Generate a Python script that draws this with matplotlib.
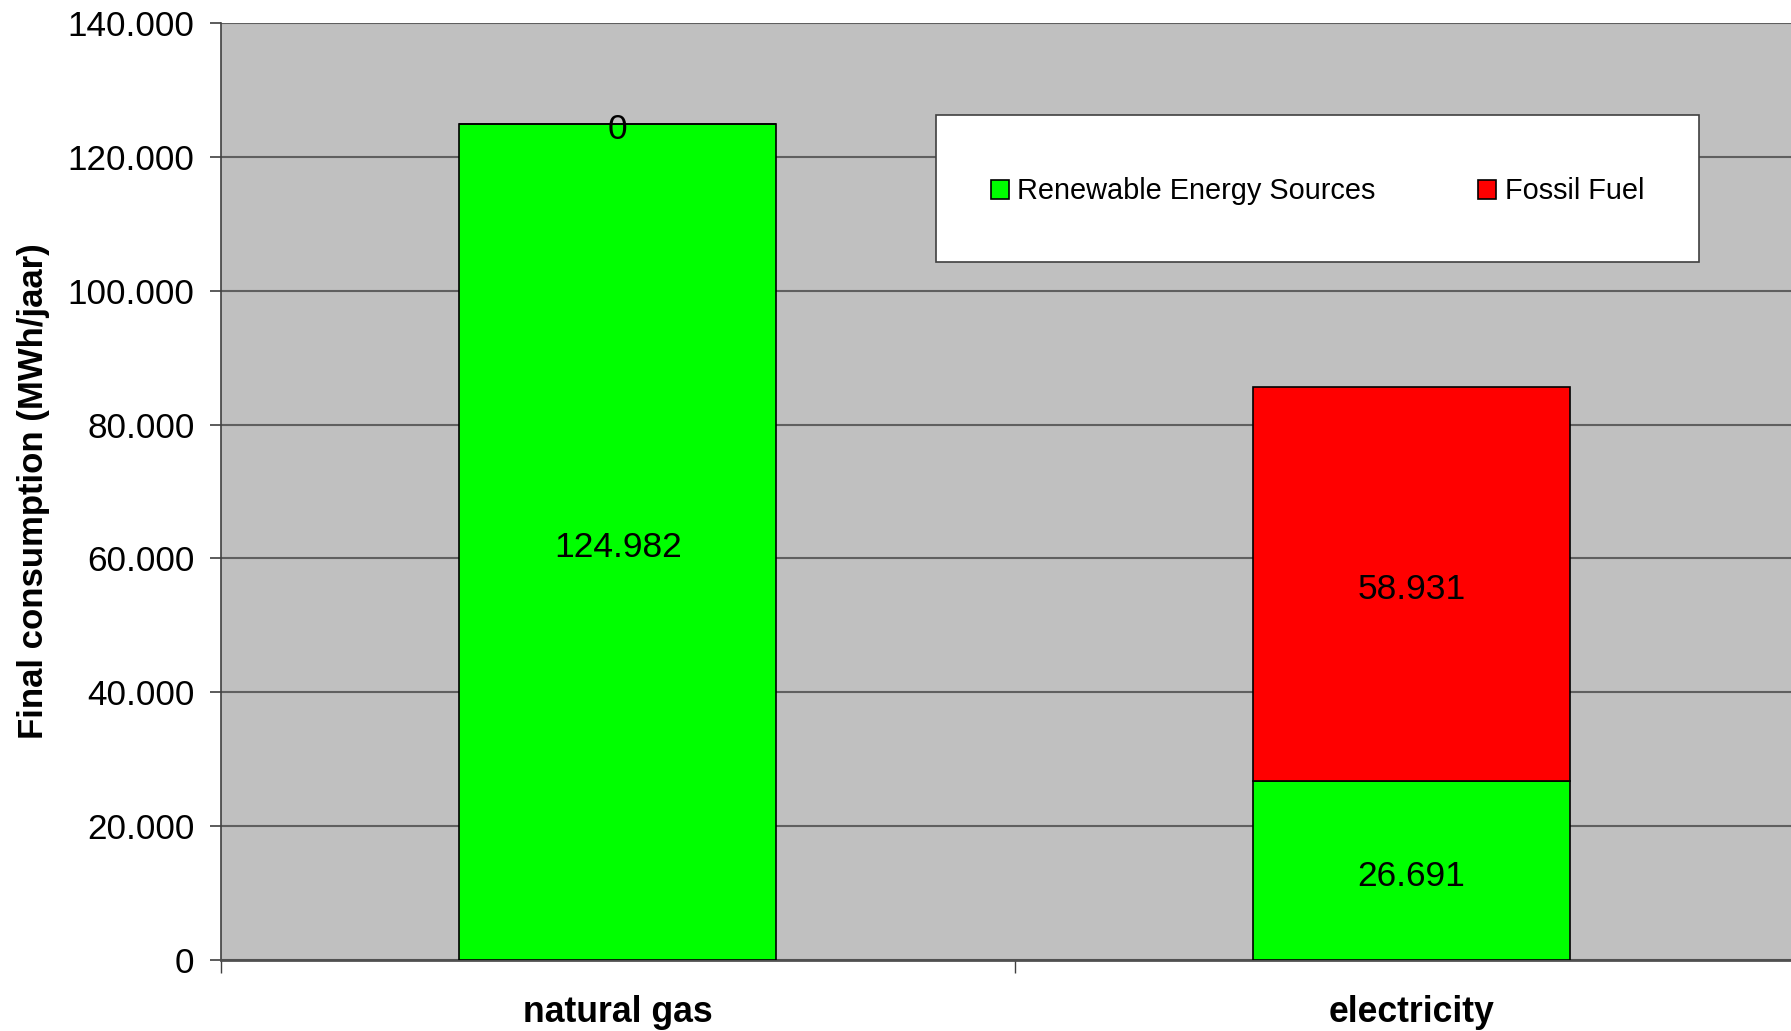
import matplotlib
matplotlib.use("Agg")
import matplotlib.pyplot as plt
from matplotlib.ticker import FuncFormatter, FixedLocator

plt.rcParams["font.family"] = ["Liberation Sans", "DejaVu Sans"]

categories = ["natural gas", "electricity"]
renewable = [124982, 26691]
fossil = [0, 58931]
series_names = ["Renewable Energy Sources", "Fossil Fuel"]
y_ticks = [0, 20000, 40000, 60000, 80000, 100000, 120000, 140000]


def dotted(v):
    return f"{int(round(v)):,}".replace(",", ".")


fig = plt.figure(figsize=(17.91, 10.31), dpi=100)
ax = fig.add_axes([221 / 1791, 71 / 1031, 1587 / 1791, 937 / 1031])
ax.set_facecolor("#c0c0c0")

x = list(range(len(categories)))
bars_r = ax.bar(x, renewable, width=0.40, color="#00ff00", edgecolor="black",
                linewidth=1.2, label=series_names[0], zorder=3)
bars_f = ax.bar(x, fossil, width=0.40, bottom=renewable, color="#ff0000",
                edgecolor="black", linewidth=1.2, label=series_names[1], zorder=3)

# value labels in the middle of each segment (excel puts them a touch low)
for i in x:
    ax.annotate(dotted(renewable[i]), (i, renewable[i] / 2), xytext=(0, -4),
                textcoords="offset points", ha="center", va="center",
                fontsize=25.5, zorder=4)
    ax.annotate(dotted(fossil[i]), (i, renewable[i] + fossil[i] / 2), xytext=(0, -4),
                textcoords="offset points", ha="center", va="center",
                fontsize=25.5, zorder=4)

ax.set_xlim(-0.5, 1.5)
ax.set_ylim(0, 140000)
ax.set_yticks(y_ticks)
ax.yaxis.set_major_formatter(FuncFormatter(lambda v, p: dotted(v)))
ax.yaxis.grid(True, color="#5f5f5f", linewidth=1.5, zorder=1)
ax.set_axisbelow(True)

ax.set_xticks(x)
ax.set_xticklabels(categories, fontsize=25.7, fontweight="bold")
ax.xaxis.set_minor_locator(FixedLocator([-0.5, 0.5, 1.5]))
ax.tick_params(axis="x", which="major", length=0, pad=25)
ax.tick_params(axis="x", which="minor", length=9, width=1, color="#404040")
ax.tick_params(axis="y", length=8, width=1.2, pad=11, labelsize=25.3, color="#404040")

ax.set_ylabel("Final consumption (MWh/jaar)", fontsize=25, fontweight="bold")
ax.yaxis.set_label_coords(-0.108, 0.5)

for side in ["top", "right"]:
    ax.spines[side].set_visible(False)
ax.spines["left"].set_color("#404040")
ax.spines["left"].set_linewidth(1.2)
ax.spines["bottom"].set_color("#505050")
ax.spines["bottom"].set_linewidth(2)

# legend box drawn separately so its size can match the original exactly
box = plt.Rectangle((936 / 1791, 1 - 262 / 1031), 763 / 1791, 147 / 1031,
                    transform=fig.transFigure, facecolor="white",
                    edgecolor="#404040", linewidth=1.2, zorder=5)
fig.patches.append(box)

leg = fig.legend(handles=[bars_r, bars_f], labels=series_names, ncol=2,
                 loc="center", mode="expand",
                 bbox_to_anchor=(936 / 1791, 1 - 265 / 1031, 763 / 1791, 147 / 1031),
                 fontsize=20.8, frameon=False, borderpad=1.9,
                 handlelength=0.62, handleheight=0.62, handletextpad=0.3,
                 borderaxespad=0)
leg.set_zorder(6)

fig.savefig("out.png", dpi=100)
